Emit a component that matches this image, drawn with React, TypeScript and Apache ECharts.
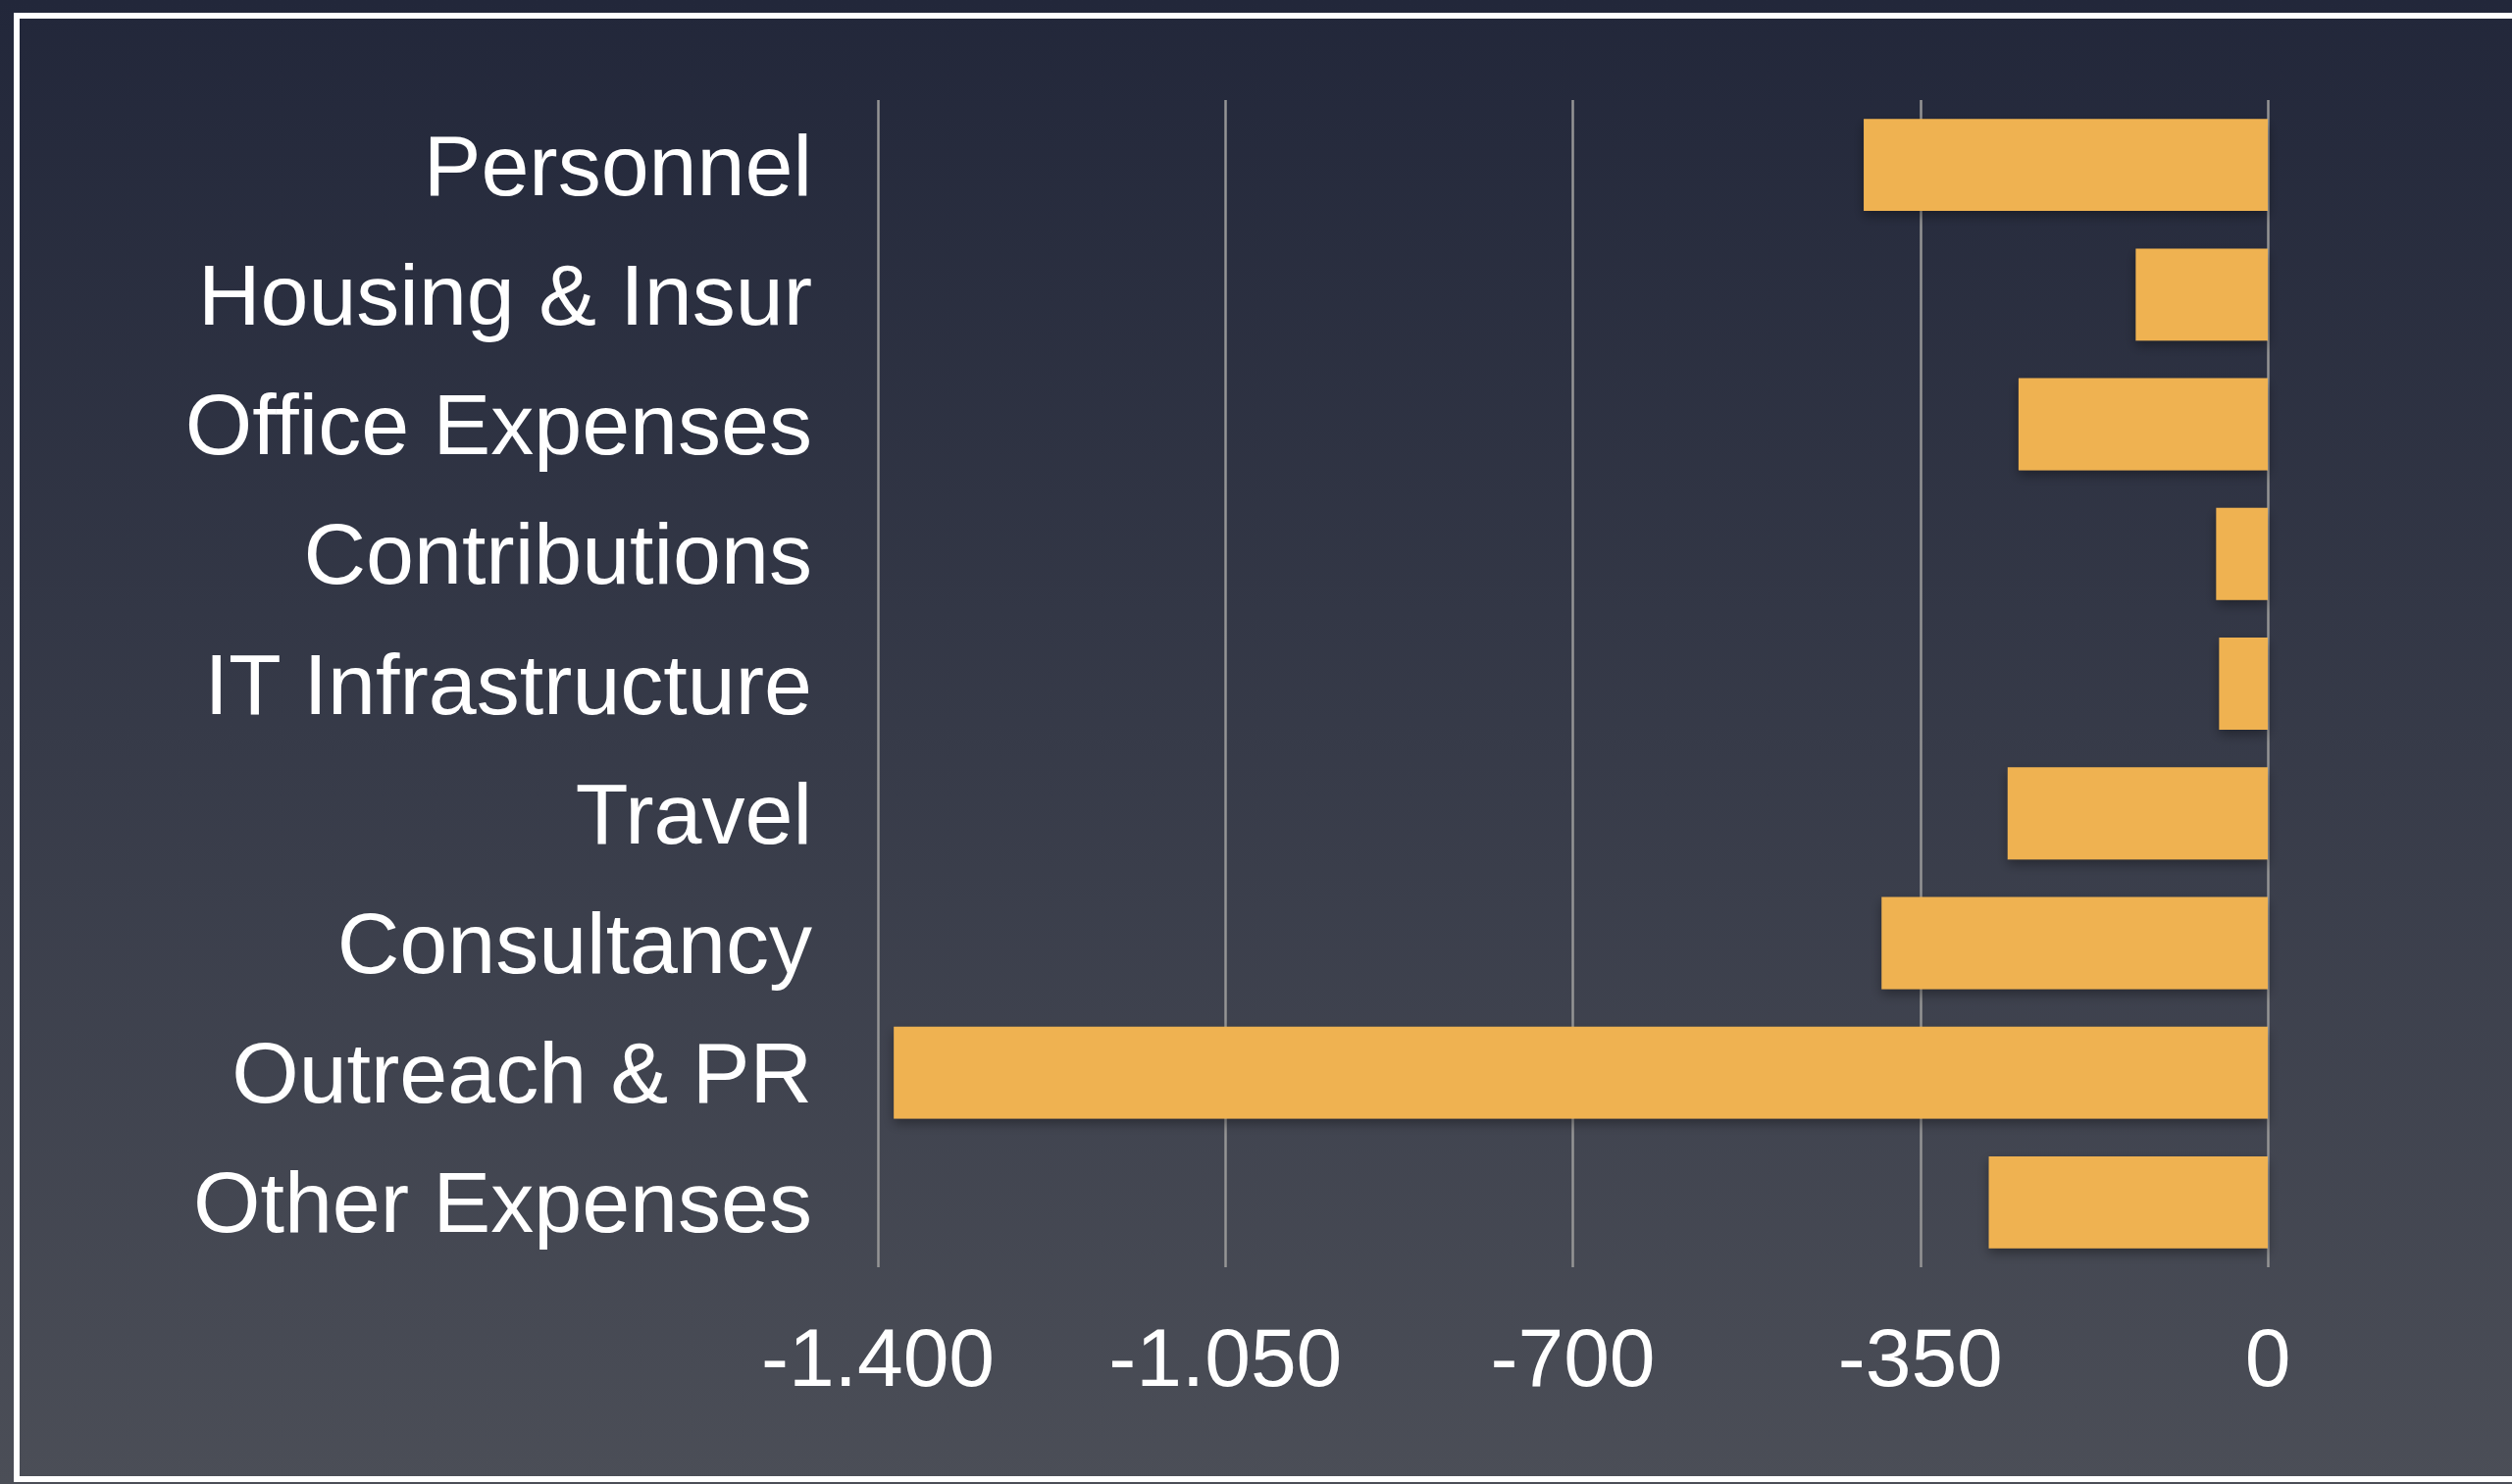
import React, { useEffect, useRef } from "react";
import * as echarts from "echarts";

const categories = [
  "Personnel",
  "Housing & Insur",
  "Office Expenses",
  "Contributions",
  "IT Infrastructure",
  "Travel",
  "Consultancy",
  "Outreach & PR",
  "Other Expenses",
];
const values = [-407, -133, -251, -52, -49, -262, -389, -1384, -281];
const axisMin = -1400;
const axisMax = 0;
const axisStep = 350;

const fmt = (v: number) => {
  const s = Math.abs(v).toString().replace(/\B(?=(\d{3})+(?!\d))/g, ".");
  return (v < 0 ? "-" : "") + s;
};

export default function App() {
  const ref = useRef<HTMLDivElement>(null);
  useEffect(() => {
    if (!ref.current) return;
    const chart = echarts.init(ref.current, undefined, { renderer: "svg" });
    const font = "'Liberation Sans', Arial, Helvetica, sans-serif";
    chart.setOption({
      animation: false,
      backgroundColor: new echarts.graphic.LinearGradient(0, 0, 0, 1, [
        { offset: 0, color: "#22273a" },
        { offset: 1, color: "#4b4e57" },
      ]),
      graphic: [
        {
          type: "rect",
          shape: { x: 17, y: 16, width: 2600, height: 1492 },
          style: { fill: "none", stroke: "#ffffff", lineWidth: 6 },
          silent: true,
        },
      ],
      grid: { left: 895, right: 249, top: 102, bottom: 221, containLabel: false },
      xAxis: {
        type: "value",
        min: axisMin,
        max: axisMax,
        interval: axisStep,
        axisLine: { show: false },
        axisTick: { show: false },
        splitLine: { show: true, lineStyle: { color: "#959595", width: 2.5 } },
        axisLabel: {
          color: "#ffffff",
          fontSize: 84,
          fontFamily: font,
          margin: 50,
          formatter: (v: number) => fmt(v),
        },
      },
      yAxis: {
        type: "category",
        inverse: true,
        data: categories,
        axisLine: { show: false },
        axisTick: { show: false },
        splitLine: { show: false },
        axisLabel: {
          color: "#ffffff",
          fontSize: 88,
          fontFamily: font,
          margin: 67,
        },
      },
      series: [
        {
          type: "bar",
          data: values,
          barCategoryGap: "29%",
          itemStyle: {
            color: "#efb251",
            shadowColor: "rgba(0,0,0,0.35)",
            shadowBlur: 12,
            shadowOffsetY: 5,
          },
        },
      ],
    });
    return () => chart.dispose();
  }, []);
  return (
    <div
      ref={ref}
      style={{ position: "fixed", left: 0, top: 0, width: 2561, height: 1513 }}
    />
  );
}
